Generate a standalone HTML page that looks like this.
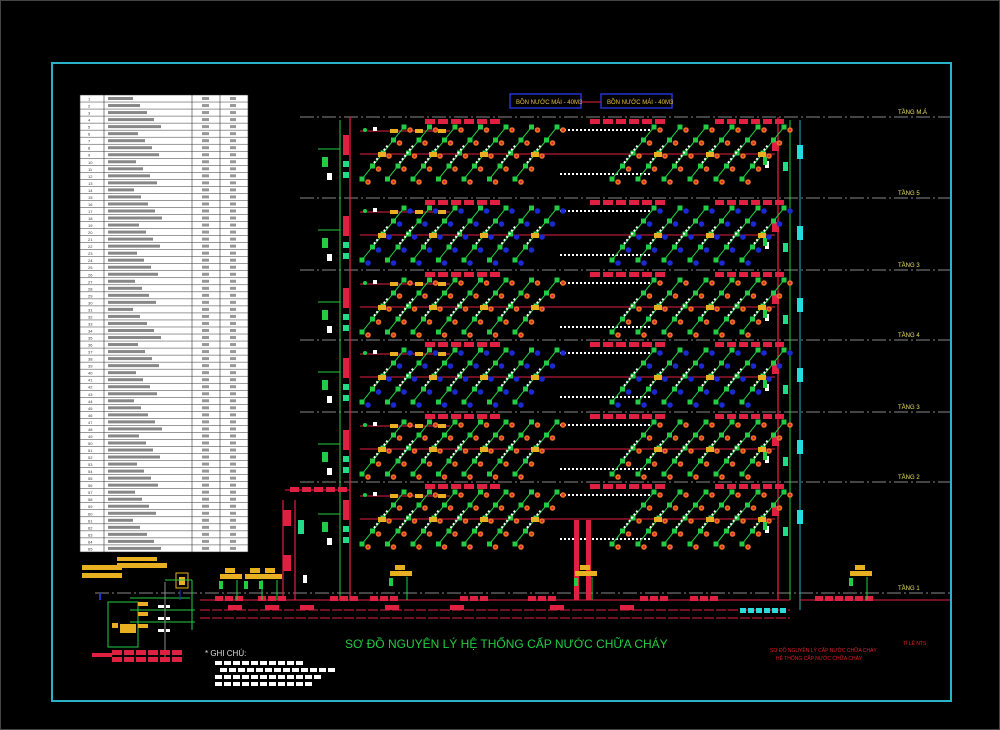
<!DOCTYPE html>
<html><head><meta charset="utf-8"><style>
html,body{margin:0;padding:0;background:#000;width:1000px;height:730px;overflow:hidden}
svg{display:block}
text{font-family:"Liberation Sans",sans-serif}
</style></head><body>
<svg id="s" width="1000" height="730" xmlns="http://www.w3.org/2000/svg">
<rect x="0" y="0" width="1000" height="730" fill="#000"/>
<rect x="0.5" y="0.5" width="999" height="729" fill="none" stroke="#444" stroke-width="1"/>
<rect x="52" y="63" width="899" height="638" fill="none" stroke="#2ab3c6" stroke-width="2"/>
<g id="tbl"></g>
<g id="g"></g>
<rect x="510" y="94" width="71" height="14" fill="none" stroke="#2233cc" stroke-width="1.5"/>
<rect x="601" y="94" width="71" height="14" fill="none" stroke="#2233cc" stroke-width="1.5"/>
<text x="516" y="104" font-size="6" fill="#e8c040">BỒN NƯỚC MÁI - 40M3</text>
<text x="607" y="104" font-size="6" fill="#e8c040">BỒN NƯỚC MÁI - 40M3</text>
<line x1="581" y1="102" x2="601" y2="102" stroke="#e02040"/>
<text x="345" y="648" font-size="12" fill="#22cc44">SƠ ĐỒ NGUYÊN LÝ HỆ THỐNG CẤP NƯỚC CHỮA CHÁY</text>
<text x="205" y="656" font-size="8" fill="#ddd">* GHI CHÚ:</text>
<text x="770" y="652" font-size="5" fill="#e02020">SƠ ĐỒ NGUYÊN LÝ CẤP NƯỚC CHỮA CHÁY</text>
<text x="776" y="660" font-size="5" fill="#e02020">HỆ THỐNG CẤP NƯỚC CHỮA CHÁY</text>
<text x="903" y="645" font-size="5" fill="#e02020">TỈ LỆ NTS</text>
</svg>
<script>
var NS="http://www.w3.org/2000/svg",G=document.getElementById('g'),T=document.getElementById('tbl');
function el(p,t,a){var e=document.createElementNS(NS,t);for(var k in a)e.setAttribute(k,a[k]);p.appendChild(e);return e}
function R(x,y,w,h,c,p){return el(p||G,'rect',{x:x,y:y,width:w,height:h,fill:c})}
function L(x1,y1,x2,y2,c,w,d){var a={x1:x1,y1:y1,x2:x2,y2:y2,stroke:c,'stroke-width':w||1};if(d)a['stroke-dasharray']=d;return el(G,'line',a)}
function C(x,y,r,c){return el(G,'circle',{cx:x,cy:y,r:r,fill:c})}
function Tx(x,y,s,c,t,p){var e=el(p||G,'text',{x:x,y:y,'font-size':s,fill:c});e.textContent=t;return e}
// table
R(80,95,168,457,'#fff',T);
var cols=[80,104,192,220,248];
cols.forEach(function(x){el(T,'line',{x1:x,y1:95,x2:x,y2:552,stroke:'#333','stroke-width':0.6})});
for(var i=0;i<=65;i++){var y=95+i*7.03;el(T,'line',{x1:80,y1:y,x2:248,y2:y,stroke:'#333','stroke-width':0.5});
 if(i<65){Tx(88,y+5.5,4,'#333',String(i+1),T);el(T,'rect',{x:108,y:y+2,width:25+(i*7)%30,height:3,fill:'#888'});el(T,'rect',{x:202,y:y+2,width:7,height:3,fill:'#999'});el(T,'rect',{x:230,y:y+2,width:6,height:3,fill:'#999'});}}
// floor lines
var F=[117,198,270,340,412,482,593],names=['TẦNG M.Á','TẦNG 5','TẦNG 3','TẦNG 4','TẦNG 3','TẦNG 2','TẦNG 1'];
F.forEach(function(y,i){L(i==6?95:300,y,950,y,'#888',1,'14 3 2 3');Tx(898,y-3,6,'#e8e060',names[i]);});
// building verticals
L(350,117,350,600,'#e02040',1.3);L(778,117,778,600,'#e02040',1.3);
L(340,120,340,600,'#22cc44',1);L(790,120,790,600,'#22cc44',1);
L(800,120,800,610,'#2ab3c6',1);
// floors
var bands=[[117,'g'],[198,'b'],[270,'g'],[340,'b'],[412,'g'],[482,'g2']];
bands.forEach(function(b,k){
 var y0=b[0],blue=b[1]=='b';
 for(var i=0;i<6;i++){R(425+i*13,y0+2,10,5,'#e02040');R(590+i*13,y0+2,10,5,'#e02040');R(715+i*12,y0+2,9,5,'#e02040');}
 L(360,y0+37,775,y0+37,'#e02040',1);L(360,y0+14,450,y0+14,'#e02040',1);
 C(365,y0+13,2,'#22cc44');R(373,y0+10,4,4,'#fff');
 [390,415,438].forEach(function(x){R(x,y0+12,8,4,'#e8b020')});
 R(343,y0+18,6,14,'#e02040');R(343,y0+32,6,6,'#e02040');
 R(322,y0+40,6,10,'#22cc44');R(327,y0+56,5,7,'#fff');L(318,y0+32,340,y0+32,'#22cc44');
 R(343,y0+44,6,6,'#22dd88');R(343,y0+55,6,6,'#22dd88');
 R(772,y0+24,7,10,'#e02040');R(783,y0+45,5,9,'#22dd88');R(797,y0+28,6,14,'#22dddd');R(765,y0+44,4,7,'#fff');R(763,y0+40,4,8,'#22cc44');
 L(560,y0+13,650,y0+13,'#fff',2,'2 2');L(560,y0+57,650,y0+57,'#fff',2,'2 2');
 var xs=[];for(var x=362;x<=540;x+=25.5)xs.push(x);for(var x=612;x<=745;x+=26)xs.push(x);
 xs.forEach(function(x,j){
   var ox=x,oy=y0+62;
   L(ox,oy,ox+42,oy-52,'#22cc44',1);
   for(var s=0;s<5;s++){var px=ox+s*10.5,py=oy-s*13;
     R(px-2.5,py-2.5,5,5,'#22cc44');
     C(px+6,py+3,2.8,blue?'#1a2ad0':'#e87020');
     if(!blue)C(px+6,py+3,1.1,'#e02040');}
   L(x+12,y0+46,x+26,y0+28,'#fff',2,'2 2');
   if(j%2==0)R(x+16,y0+35,8,5,'#e8b020');
 });
});
// bottom floor extension
L(285,490,350,490,'#e02040');for(var i=0;i<5;i++)R(290+i*12,487,9,5,'#e02040');
L(283,500,283,600,'#e02040',1.2);L(295,500,295,600,'#e02040',1.2);
R(283,510,8,16,'#e02040');R(283,555,8,16,'#e02040');R(298,520,6,14,'#22dd88');R(303,575,4,8,'#fff');
R(574,520,5,80,'#e02040');R(586,520,5,80,'#e02040');
// bottom mains
L(200,600,790,600,'#e02040',1);L(200,610,790,610,'#e02040',1,'10 2');L(200,618,790,618,'#e02040',1,'10 2');
[[215,596],[258,596],[330,596],[370,596],[460,596],[528,596],[640,596],[690,596],[815,596],[845,596]].forEach(function(p){for(var i=0;i<3;i++)R(p[0]+i*10,p[1],8,5,'#e02040')});
[[228,605],[265,605],[300,605],[385,605],[450,605],[550,605],[620,605]].forEach(function(p){R(p[0],p[1],14,5,'#e02040')});
L(800,600,950,600,'#e02040',1);
for(var i=0;i<6;i++)R(740+i*8,608,6,5,'#2adddd');
[[225,568],[250,568],[265,568],[395,565],[580,565],[855,565]].forEach(function(p){R(p[0],p[1],10,5,'#e8b020');R(p[0]-5,p[1]+6,22,5,'#e8b020');L(p[0]+12,p[1]+12,p[0]+12,600,'#22cc44');R(p[0]-6,p[1]+13,4,8,'#22cc44')});
R(82,565,40,5,'#e8b020');R(82,573,40,5,'#e8b020');R(117,557,40,4,'#e8b020');R(117,563,50,5,'#e8b020');
el(G,'rect',{x:176,y:573,width:12,height:15,fill:'none',stroke:'#e8b020'});R(179,577,6,8,'#e8b020');
el(G,'rect',{x:108,y:602,width:30,height:45,fill:'none',stroke:'#22cc44'});
L(130,598,190,598,'#22cc44');L(130,610,195,610,'#22cc44');L(130,622,195,622,'#22cc44');
L(165,580,192,580,'#22cc44');L(192,580,192,630,'#22cc44');
L(165,582,165,660,'#888');L(180,590,180,600,'#2233cc');
R(138,602,10,4,'#e8b020');R(138,612,10,4,'#e8b020');R(138,624,10,4,'#e8b020');
R(120,624,16,9,'#e8b020');R(112,623,6,5,'#e8b020');
for(var i=0;i<3;i++){R(158,605+i*12,6,3,'#fff');R(166,605+i*12,4,3,'#fff');}
for(var i=0;i<6;i++){R(112+i*12,650,10,5,'#e02040');R(112+i*12,657,10,5,'#e02040');}
R(92,653,20,4,'#e02040');
L(100,593,100,600,'#2233cc',2);
[[215,661,90],[220,668,110],[215,675,100],[215,682,95]].forEach(function(a){for(var x=a[0];x<a[0]+a[2];x+=9)R(x,a[1],7,4,'#fff')});
</script>
</body></html>
